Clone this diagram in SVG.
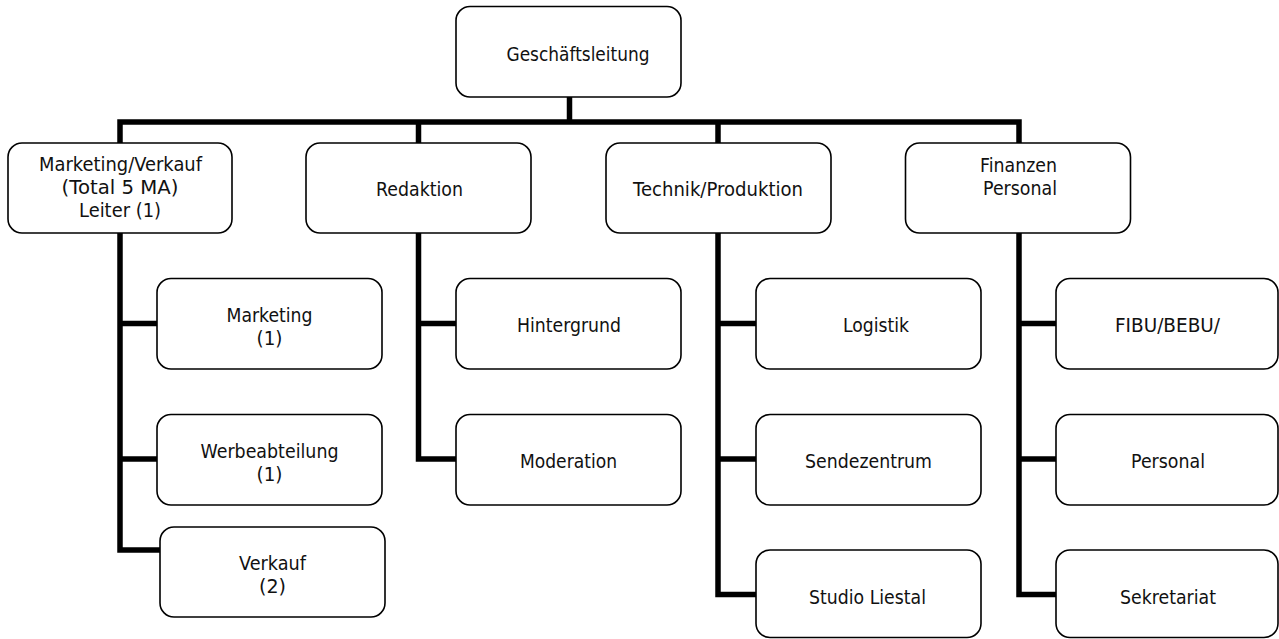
<svg xmlns="http://www.w3.org/2000/svg" width="1279" height="639" viewBox="0 0 1279 639">
<style>
.box{fill:#fff;stroke:#000;stroke-width:1.6}
.lbl{font-family:"DejaVu Sans",Verdana,sans-serif;font-size:19.5px;fill:#111;text-anchor:middle}
.con{fill:none;stroke:#000;stroke-width:5.5;stroke-linejoin:miter;stroke-linecap:butt}
</style>
<rect width="1279" height="639" fill="#fff"/>
<g id="connectors">
<path class="con" d="M569.5 97 V122"/>
<path class="con" d="M120 143 V122 H1019 V143"/>
<path class="con" d="M418.5 122 V143"/>
<path class="con" d="M718 122 V143"/>
<path class="con" d="M120 233 V550 H160"/>
<path class="con" d="M120 323.5 H157"/>
<path class="con" d="M120 459 H157"/>
<path class="con" d="M418.5 233 V459 H456"/>
<path class="con" d="M418.5 323.5 H456"/>
<path class="con" d="M718 233 V594.5 H756"/>
<path class="con" d="M718 323.5 H756"/>
<path class="con" d="M718 459 H756"/>
<path class="con" d="M1019 233 V594.5 H1056"/>
<path class="con" d="M1019 323.5 H1056"/>
<path class="con" d="M1019 459 H1056"/>
</g>
<g id="n-geschaeftsleitung"><rect class="box" x="456" y="6.5" width="225" height="90.5" rx="14"/><text class="lbl" x="578" y="61" textLength="143" lengthAdjust="spacingAndGlyphs">Geschäftsleitung</text></g>
<g id="n-marketing-verkauf"><rect class="box" x="8" y="143" width="224" height="90" rx="14"/>
<text class="lbl" x="120.5" y="171" textLength="163" lengthAdjust="spacingAndGlyphs">Marketing/Verkauf</text>
<text class="lbl" x="120" y="194" textLength="117" lengthAdjust="spacingAndGlyphs">(Total 5 MA)</text>
<text class="lbl" x="120" y="217" textLength="82" lengthAdjust="spacingAndGlyphs">Leiter (1)</text></g>
<g id="n-redaktion"><rect class="box" x="306" y="143" width="225" height="90" rx="14"/><text class="lbl" x="419.5" y="196" textLength="87" lengthAdjust="spacingAndGlyphs">Redaktion</text></g>
<g id="n-technik"><rect class="box" x="606" y="143" width="225" height="90" rx="14"/><text class="lbl" x="718" y="196" textLength="170" lengthAdjust="spacingAndGlyphs">Technik/Produktion</text></g>
<g id="n-finanzen"><rect class="box" x="905.5" y="143" width="225" height="90" rx="14"/>
<text class="lbl" x="1018.5" y="172" textLength="77" lengthAdjust="spacingAndGlyphs">Finanzen</text>
<text class="lbl" x="1020" y="195" textLength="74" lengthAdjust="spacingAndGlyphs">Personal</text></g>
<g id="n-marketing"><rect class="box" x="157" y="278.5" width="225" height="90.5" rx="14"/>
<text class="lbl" x="269.5" y="322" textLength="86" lengthAdjust="spacingAndGlyphs">Marketing</text>
<text class="lbl" x="269.5" y="345" textLength="26" lengthAdjust="spacingAndGlyphs">(1)</text></g>
<g id="n-werbeabteilung"><rect class="box" x="157" y="414.5" width="225" height="90.5" rx="14"/>
<text class="lbl" x="269.5" y="458" textLength="138" lengthAdjust="spacingAndGlyphs">Werbeabteilung</text>
<text class="lbl" x="269.5" y="481" textLength="26" lengthAdjust="spacingAndGlyphs">(1)</text></g>
<g id="n-verkauf"><rect class="box" x="160" y="527" width="225" height="90" rx="14"/>
<text class="lbl" x="272.5" y="570" textLength="67" lengthAdjust="spacingAndGlyphs">Verkauf</text>
<text class="lbl" x="272.5" y="593" textLength="27" lengthAdjust="spacingAndGlyphs">(2)</text></g>
<g id="n-hintergrund"><rect class="box" x="456" y="278.5" width="225" height="90.5" rx="14"/><text class="lbl" x="569" y="332" textLength="104" lengthAdjust="spacingAndGlyphs">Hintergrund</text></g>
<g id="n-moderation"><rect class="box" x="456" y="414.5" width="225" height="90.5" rx="14"/><text class="lbl" x="568.5" y="468" textLength="97" lengthAdjust="spacingAndGlyphs">Moderation</text></g>
<g id="n-logistik"><rect class="box" x="756" y="278.5" width="225" height="90.5" rx="14"/><text class="lbl" x="876" y="332" textLength="66" lengthAdjust="spacingAndGlyphs">Logistik</text></g>
<g id="n-sendezentrum"><rect class="box" x="756" y="414.5" width="225" height="90.5" rx="14"/><text class="lbl" x="868.5" y="468" textLength="127" lengthAdjust="spacingAndGlyphs">Sendezentrum</text></g>
<g id="n-studio-liestal"><rect class="box" x="756" y="550" width="225" height="87.5" rx="14"/><text class="lbl" x="867.5" y="604" textLength="117" lengthAdjust="spacingAndGlyphs">Studio Liestal</text></g>
<g id="n-fibu"><rect class="box" x="1056" y="278.5" width="222" height="90.5" rx="14"/><text class="lbl" x="1167.5" y="332" textLength="105" lengthAdjust="spacingAndGlyphs">FIBU/BEBU/</text></g>
<g id="n-personal"><rect class="box" x="1056" y="414.5" width="222" height="90.5" rx="14"/><text class="lbl" x="1168" y="468" textLength="74" lengthAdjust="spacingAndGlyphs">Personal</text></g>
<g id="n-sekretariat"><rect class="box" x="1056" y="550" width="222" height="87.5" rx="14"/><text class="lbl" x="1168" y="604" textLength="96" lengthAdjust="spacingAndGlyphs">Sekretariat</text></g>
</svg>
